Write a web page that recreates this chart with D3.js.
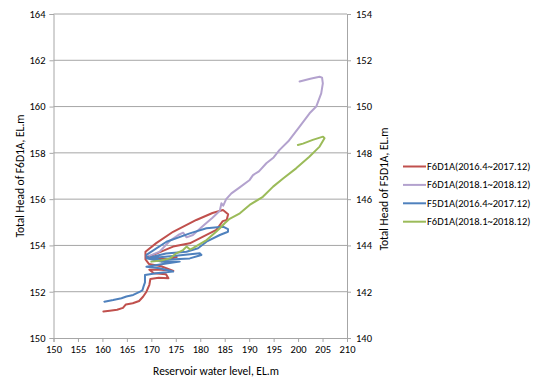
<!DOCTYPE html>
<html><head><meta charset="utf-8">
<script src="https://cdn.jsdelivr.net/npm/d3@7"></script>
<style>
body{margin:0;background:#fff;}
text{font-family:Carlito,"Liberation Sans",Arial,sans-serif;fill:#000;}
</style></head>
<body><svg id="c" width="538" height="380"></svg>
<script>
// ---- data (x: reservoir level, y: total head) ----
const xTicks = [150,155,160,165,170,175,180,185,190,195,200,205,210];
const yLeftTicks = [150,152,154,156,158,160,162,164];
const yRightTicks = [140,142,144,146,148,150,152,154];
const seriesNames = ["F6D1A(2016.4~2017.12)","F6D1A(2018.1~2018.12)","F5D1A(2016.4~2017.12)","F6D1A(2018.1~2018.12)"];
const seriesColors = ["#C0504D","#B3A2CE","#4F81BD","#9BBB59"];
const seriesAxis = ["left","left","right","right"];

const redData = [[160.2,151.15],[161.5,151.18],[163,151.22],[164.2,151.3],[164.8,151.45],[166.2,151.5],[167.5,151.6],[168.3,151.78],[169,152.0],[169.6,152.3],[169.8,152.55],[171.5,152.6],[173.5,152.58],[173,152.75],[170.5,152.8],[169.6,152.95],[172,152.95],[174.5,152.9],[172,153.1],[169.5,153.2],[168.8,153.4],[168.8,153.73],[171,154.1],[174.45,154.59],[179.2,155.1],[182.5,155.4],[184.65,155.53],[185.7,155.35],[185.4,155.1],[184.6,155.05],[183.3,154.67],[180.57,154.38],[177.86,154.09],[174.45,153.95],[170.4,153.59],[169.2,153.5],[171,153.45],[173.5,153.4],[175.2,153.5]];

const purpleData = [[169.6,153.55],[171.7,153.73],[173.8,154.2],[175.5,154.45],[176.5,154.55],[177.2,154.35],[178.5,154.45],[180.6,154.85],[182.5,155.2],[184.0,155.5],[184.33,155.82],[184.7,155.72],[185.3,156.0],[186.37,156.25],[188,156.5],[190.1,156.83],[190.78,157.04],[192,157.2],[193.51,157.55],[195,157.8],[196.22,158.13],[198,158.5],[200.31,159.13],[202.35,159.71],[203.71,160.0],[204.73,160.57],[205.06,161.0],[204.9,161.25],[204.39,161.29],[202.5,161.2],[200.31,161.08]];

const blueData = [[160.4,141.57],[162.2,141.64],[163.9,141.72],[164.9,141.79],[166.3,141.86],[167.7,142.0],[168.2,142.07],[168.4,142.22],[168.7,142.4],[168.7,142.72],[171,142.8],[174.45,142.87],[171.7,143.01],[169.0,143.08],[172.4,143.2],[175.8,143.3],[172,143.3],[169,143.44],[175,143.55],[179.9,143.66],[180.24,143.59],[177.86,143.44],[171.73,143.37],[169.0,143.5],[169.0,143.59],[173.1,144.16],[177.86,144.52],[181.27,144.74],[184.65,144.81],[185.67,144.7],[185.67,144.59],[184.0,144.45],[181.27,144.16],[179.55,143.88],[177.18,143.73],[173,143.65],[170,143.5]];

const greenData = [[170.0,143.3],[172,143.35],[173.8,143.44],[175.1,143.66],[176.5,143.8],[177.2,143.95],[177.9,143.82],[178.5,143.88],[181.3,144.23],[183.3,144.6],[184.0,144.74],[185.0,144.96],[186.0,145.15],[188.1,145.39],[190.1,145.75],[192.8,146.1],[194.9,146.54],[197,146.9],[199.6,147.33],[202.3,147.83],[204.4,148.27],[205.4,148.63],[205.1,148.7],[203.0,148.56],[201,148.4],[199.96,148.34]];

const allSeries = [redData, purpleData, blueData, greenData];

// ---- layout ----
const L = 53.5, R = 347, T = 14, B = 338;
const svg = d3.select("#c");
const x = d3.scaleLinear().domain([150,210]).range([L,R]);
const yL = d3.scaleLinear().domain([150,164]).range([B,T]);
const yR = d3.scaleLinear().domain([140,154]).range([B,T]);
const grey = "#a6a6a6";
const font = 'Carlito,"Liberation Sans",Arial,sans-serif';

// gridlines
svg.append("g").selectAll("line").data(yLeftTicks.slice(1)).join("line")
  .attr("x1",L).attr("x2",R).attr("y1",d=>yL(d)).attr("y2",d=>yL(d))
  .attr("stroke",grey).attr("stroke-width",1);

// axes
const ax = svg.append("g").attr("transform",`translate(0,${B})`)
  .call(d3.axisBottom(x).tickValues(xTicks).tickSize(4).tickPadding(4));
const ayl = svg.append("g").attr("transform",`translate(${L},0)`)
  .call(d3.axisLeft(yL).tickValues(yLeftTicks).tickSize(4).tickPadding(4));
const ayr = svg.append("g").attr("transform",`translate(${R},0)`)
  .call(d3.axisRight(yR).tickValues(yRightTicks).tickSize(4).tickPadding(5));
[ax,ayl,ayr].forEach(g=>{
  g.select(".domain").attr("stroke",grey);
  g.selectAll(".tick line").attr("stroke",grey);
  g.selectAll(".tick text").attr("font-size",10.5).attr("font-family",font).attr("fill","#000");
});

// lines
allSeries.forEach((d,i)=>{
  const ys = seriesAxis[i]==="left" ? yL : yR;
  svg.append("path").datum(d)
    .attr("fill","none").attr("stroke",seriesColors[i]).attr("stroke-width",2)
    .attr("stroke-linejoin","round").attr("stroke-linecap","round")
    .attr("d", d3.line().x(p=>x(p[0])).y(p=>ys(p[1])));
});

// axis titles
svg.append("text").attr("x",216).attr("y",375).attr("text-anchor","middle")
  .attr("font-size",11.5).text("Reservoir water level, EL.m");
svg.append("text").attr("transform","translate(24,176) rotate(-90)").attr("text-anchor","middle")
  .attr("font-size",11.5).text("Total Head of F6D1A, EL.m");
svg.append("text").attr("transform","translate(388,189) rotate(-90)").attr("text-anchor","middle")
  .attr("font-size",11.5).text("Total Head of F5D1A, EL.m");

// legend
const lg = svg.append("g");
seriesNames.forEach((n,i)=>{
  const yy = 166.5 + i*18.4;
  lg.append("line").attr("x1",403).attr("x2",426).attr("y1",yy).attr("y2",yy)
    .attr("stroke",seriesColors[i]).attr("stroke-width",2);
  lg.append("text").attr("x",427).attr("y",yy+3.5).attr("font-size",10.5).text(n);
});
</script></body></html>
